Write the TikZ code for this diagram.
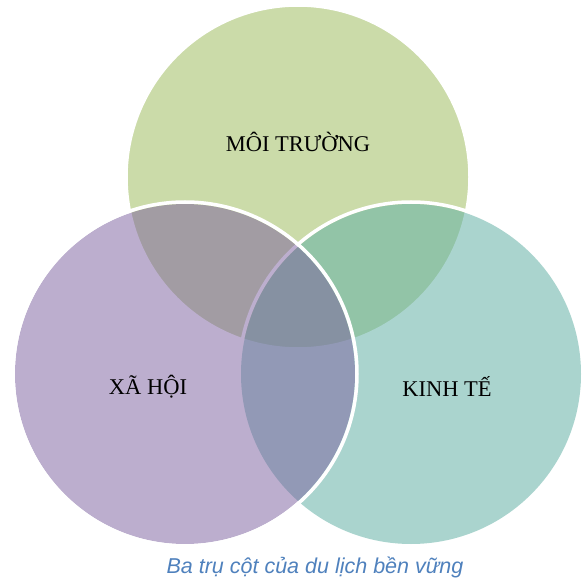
\documentclass[tikz,border=0pt]{standalone}
\usepackage{fontspec}
\setmainfont{Liberation Serif}
\newfontfamily\capfont{Liberation Sans}
\definecolor{cgreen}{RGB}{203,219,169}
\definecolor{cteal}{RGB}{99,177,166}
\definecolor{cpurple}{RGB}{123,95,159}
\definecolor{capblue}{RGB}{79,129,189}
\begin{document}
\begin{tikzpicture}[x=1pt,y=-1pt,
  ring/.style={draw=white,line width=3.5pt},
  lbl/.style={font=\fontsize{22.5}{25}\selectfont,text=black}]
\useasboundingbox (0,0) rectangle (587,580);
\fill[white] (0,0) rectangle (587,580);
% top circle (environment)
\path[ring,fill=cgreen] (298,177) circle[radius=172];
% right circle (economy)
\draw[white,line width=3.5pt] (411,374) circle[radius=172];
\fill[cteal,fill opacity=0.54] (411,374) circle[radius=170];
% left circle (society)
\fill[cpurple,fill opacity=0.5] (185,374) circle[radius=170];
\draw[white,line width=3.5pt] (185,374) circle[radius=172];
\node[lbl] (env) at (298,142) {MÔI TRƯỜNG};
\node[lbl] (soc) at (148,387) {XÃ HỘI};
\node[lbl] (eco) at (447,387) {KINH TẾ};
\node[font=\capfont\itshape\fontsize{21.5}{24}\selectfont,text=capblue] (cap) at (315,567) {Ba trụ cột của du lịch bền vững};
\end{tikzpicture}
\end{document}
